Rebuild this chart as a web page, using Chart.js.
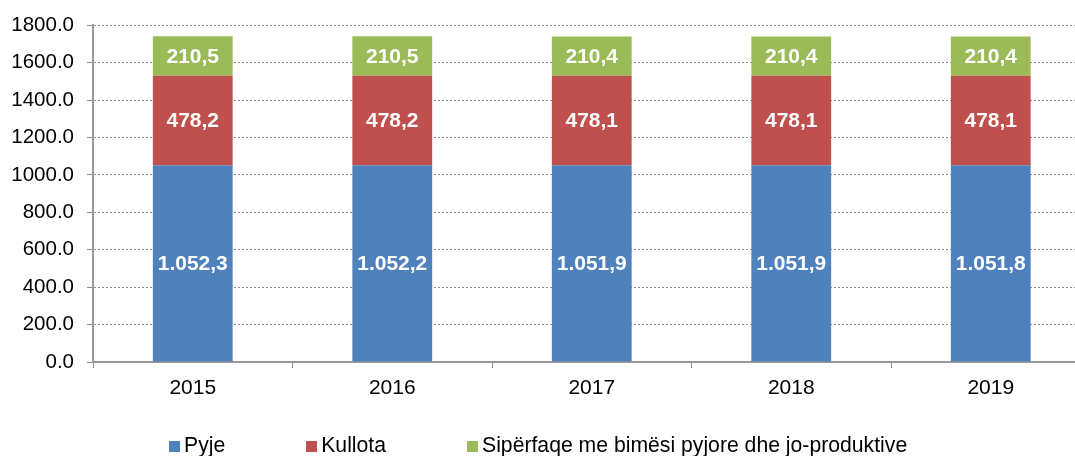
<!DOCTYPE html>
<html>
<head>
<meta charset="utf-8">
<script src="https://cdn.jsdelivr.net/npm/chart.js@4/dist/chart.umd.min.js"></script>
<style>
  html, body { margin: 0; padding: 0; background: #fff; overflow: hidden; width: 1075px; height: 456px; }
  #wrap { position: absolute; left: 0; top: 0; width: 1100px; height: 456px; }
  #legend { position: absolute; left: 169px; top: 434px; display: flex; font-family: "Liberation Sans", Arial, sans-serif; font-size: 21.2px; line-height: 21px; color: #000; white-space: nowrap; }
  #legend .item { margin-right: 81px; }
  #legend .box { display: inline-block; width: 11px; height: 11px; margin-right: 4px; vertical-align: baseline; }
</style>
</head>
<body>
<div id="wrap"><canvas id="c" width="1100" height="456"></canvas></div>
<div id="legend"></div>
<script>
const categories = ["2015", "2016", "2017", "2018", "2019"];
const seriesNames = ["Pyje", "Kullota", "Sipërfaqe me bimësi pyjore dhe jo-produktive"];
const pyje = [1052.3, 1052.2, 1051.9, 1051.9, 1051.8];
const kullota = [478.2, 478.2, 478.1, 478.1, 478.1];
const siperfaqe = [210.5, 210.5, 210.4, 210.4, 210.4];
const colors = ["#4F81BD", "#C0504D", "#9BBB59"];

const FONT = "'Liberation Sans', Arial, sans-serif";

function fmt(v) {
  const s = v.toFixed(1);
  let [i, d] = s.split(".");
  i = i.replace(/\B(?=(\d{3})+(?!\d))/g, ".");
  return i + "," + d;
}

const valueLabels = {
  id: "valueLabels",
  afterDatasetsDraw(chart) {
    const ctx = chart.ctx;
    ctx.save();
    ctx.fillStyle = "#fff";
    ctx.font = "bold 21px " + FONT;
    ctx.textAlign = "center";
    ctx.textBaseline = "middle";
    chart.data.datasets.forEach((ds, di) => {
      const meta = chart.getDatasetMeta(di);
      meta.data.forEach((el, i) => {
        const y = (el.y + el.base) / 2;
        ctx.fillText(fmt(ds.data[i]), el.x, y + 1);
      });
    });
    ctx.restore();
  }
};

const chart = new Chart(document.getElementById("c"), {
  type: "bar",
  data: {
    labels: categories,
    datasets: [
      { label: seriesNames[0], data: pyje, backgroundColor: colors[0] },
      { label: seriesNames[1], data: kullota, backgroundColor: colors[1] },
      { label: seriesNames[2], data: siperfaqe, backgroundColor: colors[2] }
    ]
  },
  options: {
    responsive: false,
    animation: false,
    devicePixelRatio: 1,
    layout: { padding: { top: 24, right: 9.5, bottom: 0, left: 0 } },
    datasets: { bar: { barPercentage: 0.4, categoryPercentage: 1.0, borderWidth: 0 } },
    plugins: { legend: { display: false }, tooltip: { enabled: false } },
    scales: {
      x: {
        stacked: true,
        offset: true,
        afterFit(s) { s.height = 94; },
        grid: { display: true, drawOnChartArea: false, offset: true, tickLength: 6, tickColor: "#8c8c8c", lineWidth: 1 },
        border: { display: true, color: "#999", width: 2 },
        ticks: { color: "#000", font: { family: FONT, size: 21 }, padding: 8, maxRotation: 0 }
      },
      y: {
        stacked: true,
        min: 0,
        max: 1800,
        afterFit(s) { s.width = 93; },
        grid: { color: "#8c8c8c", lineWidth: 1, tickBorderDash: [], tickColor: "#8c8c8c", tickLength: 6 },
        border: { display: true, color: "#999", width: 2, dash: [2, 2] },
        ticks: { stepSize: 200, color: "#000", font: { family: FONT, size: 20.5 }, padding: 13, callback: v => Number(v).toFixed(1) }
      }
    }
  },
  plugins: [valueLabels]
});

const legendEl = document.getElementById("legend");
chart.data.datasets.forEach((ds) => {
  const item = document.createElement("span");
  item.className = "item";
  const box = document.createElement("span");
  box.className = "box";
  box.style.background = ds.backgroundColor;
  item.appendChild(box);
  item.appendChild(document.createTextNode(ds.label));
  legendEl.appendChild(item);
});
</script>
</body>
</html>
